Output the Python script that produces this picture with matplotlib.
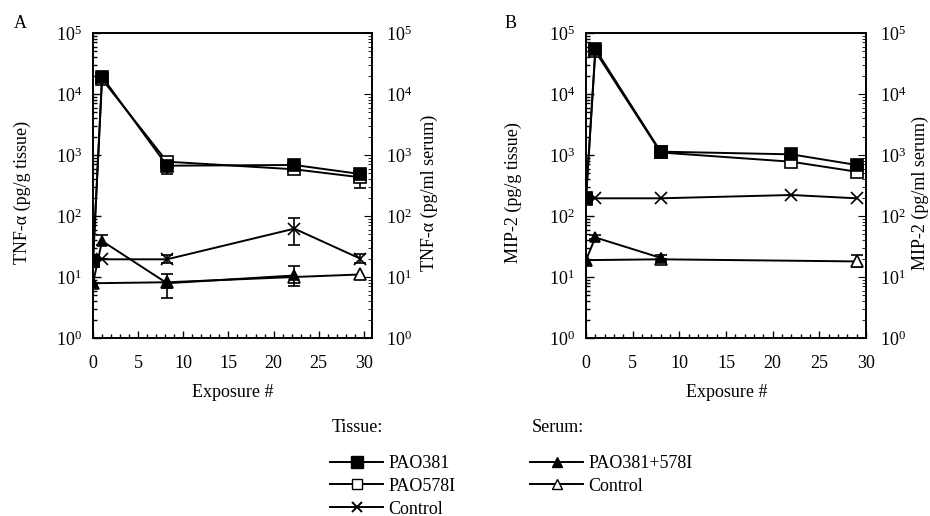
import matplotlib
matplotlib.use("Agg")
import matplotlib.pyplot as plt
import numpy as np
from matplotlib.lines import Line2D
from matplotlib.ticker import LogLocator, MultipleLocator, NullFormatter

plt.rcParams['font.family'] = ['Liberation Serif', 'DejaVu Serif']
plt.rcParams['mathtext.fontset'] = 'stix'
plt.rcParams['font.size'] = 13

# ---------------- Panel A: TNF-alpha ----------------
xA = [0, 1, 8.2, 22.3, 29.6]
xA_serum_pao = [0, 1, 8.2, 22.3]
xA_serum_ctrl = [0, 8.2, 22.3, 29.6]
A_pao381 = [18, 19200, 668, 686, 488]
A_pao381_err_lo = [0, 3000, 180, 0, 0]
A_pao381_err_hi = [0, 3000, 0, 0, 0]
A_pao578 = [18, 17500, 777, 583, 431]
A_pao578_err_lo = [0, 0, 0, 0, 146]
A_pao578_err_hi = [0, 0, 0, 0, 0]
A_tctrl = [18, 19.5, 19.5, 62, 20]
A_tctrl_lo = [0, 0, 2.7, 28.5, 3.2]
A_tctrl_hi = [0, 0, 3.3, 29.6, 3.8]
A_serum_pao = [7.9, 39, 7.9, 10.6]
A_serum_pao_lo = [0, 5.7, 3.4, 3.4]
A_serum_pao_hi = [0, 9.7, 3.3, 4.3]
A_serum_ctrl = [7.9, 8.2, 10.0, 11.0]

# ---------------- Panel B: MIP-2 ----------------
xB = [0, 1, 8, 22, 29]
xB_serum_pao = [0, 1, 8]
xB_serum_ctrl = [0, 8, 29]
B_pao381 = [195, 54400, 1135, 1025, 686]
B_pao578 = [190, 50000, 1100, 776, 532]
B_pao578_lo = [0, 0, 0, 0, 90]
B_pao578_hi = [0, 0, 0, 0, 115]
B_tctrl = [195, 195, 195, 221, 195]
B_serum_pao = [18.9, 44.5, 20.6]
B_serum_pao_lo = [0, 3.0, 2.1]
B_serum_pao_hi = [0, 4.0, 2.1]
B_serum_ctrl = [18.9, 19.5, 18.0]
B_serum_ctrl_lo = [0, 0, 3.3]
B_serum_ctrl_hi = [0, 0, 4.8]

fig = plt.figure(figsize=(9.3, 5.16), dpi=100)
axA = fig.add_axes([93/930, 1-338/516, 279/930, 305/516])
axB = fig.add_axes([586/930, 1-338/516, 280/930, 305/516])

lw = 1.4
kw = dict(color='black', lw=lw, capsize=4, elinewidth=1.2, capthick=1.2)


def eb(ax, x, y, lo, hi, marker, mfc, ms, z):
    ax.errorbar(x, y, yerr=[lo, hi], marker=marker, mfc=mfc, mec='black',
                ms=ms, mew=1.2, zorder=z, **kw)


def line(ax, x, y, marker, mfc, ms, z):
    ax.plot(x, y, color='black', lw=lw, marker=marker, mfc=mfc, mec='black',
            ms=ms, mew=1.2, zorder=z)


# Panel A
eb(axA, xA, A_tctrl, A_tctrl_lo, A_tctrl_hi, 'x', 'black', 8, 3)
line(axA, xA_serum_ctrl, A_serum_ctrl, '^', 'white', 8, 4)
eb(axA, xA_serum_pao, A_serum_pao, A_serum_pao_lo, A_serum_pao_hi, '^', 'black', 7, 5)
eb(axA, xA, A_pao578, A_pao578_err_lo, A_pao578_err_hi, 's', 'white', 8, 6)
eb(axA, xA, A_pao381, A_pao381_err_lo, A_pao381_err_hi, 's', 'black', 8, 7)

# Panel B
line(axB, xB, B_tctrl, 'x', 'black', 8, 3)
eb(axB, xB_serum_ctrl, B_serum_ctrl, B_serum_ctrl_lo, B_serum_ctrl_hi, '^', 'white', 8, 4)
eb(axB, xB_serum_pao, B_serum_pao, B_serum_pao_lo, B_serum_pao_hi, '^', 'black', 7, 5)
eb(axB, xB, B_pao578, B_pao578_lo, B_pao578_hi, 's', 'white', 8, 6)
line(axB, xB, B_pao381, 's', 'black', 9, 7)


def style(ax, xmax, ylab_l, ylab_r, lx, rx):
    ax.set_yscale('log')
    ax.set_ylim(1, 1e5)
    ax.set_xlim(0, xmax)
    ax.xaxis.set_major_locator(MultipleLocator(5))
    ax.xaxis.set_minor_locator(MultipleLocator(1))
    ax.yaxis.set_major_locator(LogLocator(base=10, numticks=10))
    ax.yaxis.set_minor_locator(LogLocator(base=10, subs=np.arange(2, 10), numticks=10))
    ax.yaxis.set_minor_formatter(NullFormatter())
    ax.tick_params(axis='both', which='both', direction='in', top=False, right=True,
                   width=1.0)
    ax.tick_params(axis='y', which='major', length=6, pad=8)
    ax.tick_params(axis='y', which='minor', length=3)
    ax.tick_params(axis='x', which='major', length=5, pad=12)
    ax.tick_params(axis='x', which='minor', length=3)
    for s in ax.spines.values():
        s.set_linewidth(1.4)
    ax.set_ylabel(ylab_l)
    ax.yaxis.set_label_coords(lx, 0.477)
    ax.set_xlabel('Exposure #')
    ax.xaxis.set_label_coords(0.502, -0.15)
    tw = ax.twinx()
    tw.set_yscale('log')
    tw.set_ylim(1, 1e5)
    tw.yaxis.set_major_locator(LogLocator(base=10, numticks=10))
    tw.yaxis.set_minor_locator(LogLocator(base=10, subs=np.arange(2, 10), numticks=10))
    tw.yaxis.set_minor_formatter(NullFormatter())
    tw.tick_params(axis='y', which='major', direction='in', length=6, pad=10)
    tw.tick_params(axis='y', which='minor', direction='in', length=3)
    tw.set_ylabel(ylab_r, rotation=90)
    tw.yaxis.set_label_coords(rx, 0.477)
    for s in tw.spines.values():
        s.set_visible(False)


style(axA, 30.9, 'TNF-α (pg/g tissue)', 'TNF-α (pg/ml serum)', -0.222, 1.176)
style(axB, 30.0, 'MIP-2 (pg/g tissue)', 'MIP-2 (pg/ml serum)', -0.229, 1.164)

fig.text(14/930, 1-24/516, 'A', ha='left', va='center')
fig.text(505/930, 1-24/516, 'B', ha='left', va='center')

# Legends
tissue_labels = ['PAO381', 'PAO578I', 'Control']
serum_labels = ['PAO381+578I', 'Control']
hT = [Line2D([], [], color='black', lw=1.4, marker='s', mfc='black', mec='black', ms=8),
      Line2D([], [], color='black', lw=1.4, marker='s', mfc='white', mec='black', ms=7),
      Line2D([], [], color='black', lw=1.4, marker='x', mfc='black', mec='black', ms=7, mew=1.4)]
hS = [Line2D([], [], color='black', lw=1.4, marker='^', mfc='black', mec='black', ms=7),
      Line2D([], [], color='black', lw=1.4, marker='^', mfc='white', mec='black', ms=7)]

fig.text(332/930, 1-427/516, 'Tissue:', ha='left', va='center')
fig.text(532/930, 1-427/516, 'Serum:', ha='left', va='center')
legT = fig.legend(hT, tissue_labels, loc='upper left', bbox_to_anchor=(330/930, 1-455/516),
                  frameon=False, borderpad=0, borderaxespad=0, handlelength=2.95,
                  handletextpad=0.3, labelspacing=0.32, numpoints=1)
legS = fig.legend(hS, serum_labels, loc='upper left', bbox_to_anchor=(530/930, 1-455/516),
                  frameon=False, borderpad=0, borderaxespad=0, handlelength=2.95,
                  handletextpad=0.3, labelspacing=0.32, numpoints=1)

fig.savefig('out.png', dpi=100)
